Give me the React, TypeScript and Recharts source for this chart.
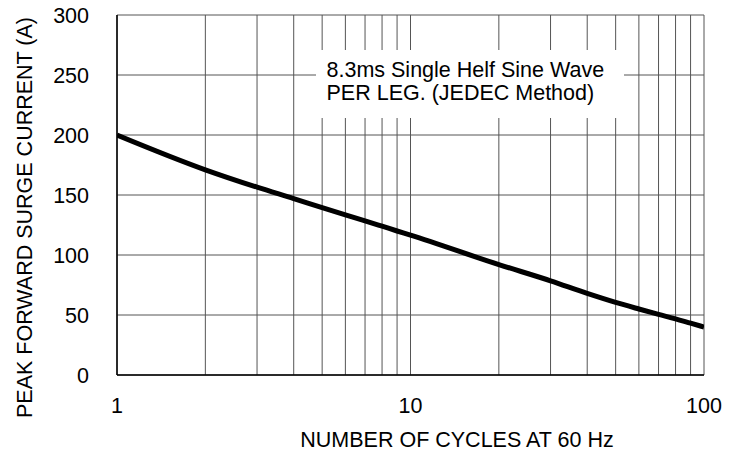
import React from 'react';
import { LineChart, Line, XAxis, YAxis, CartesianGrid } from 'recharts';

const cycles = [1, 2, 3, 4, 5, 6, 7, 8, 9, 10, 20, 30, 40, 50, 60, 70, 80, 90, 100];
const surgeCurrent = [200, 171, 156.5, 147, 139.5, 133.5, 128.5, 124, 120, 116.5, 92, 78.5, 68, 60.5, 55, 50.5, 46.8, 43.2, 40];
const xTicks = [1, 2, 3, 4, 5, 6, 7, 8, 9, 10, 20, 30, 40, 50, 60, 70, 80, 90, 100];
const xLabelTicks = [1, 10, 100];
const yTicks = [0, 50, 100, 150, 200, 250, 300];
const noteLines = ['8.3ms Single Helf Sine Wave', 'PER LEG. (JEDEC Method)'];
const xTitle = 'NUMBER OF CYCLES AT 60 Hz';
const yTitle = 'PEAK FORWARD SURGE CURRENT (A)';

const data = cycles.map((c, i) => ({ c, v: surgeCurrent[i] }));
const FONT = '"Liberation Sans", Arial, sans-serif';
const FS = 21.5;

export default function App() {
  return (
    <div style={{ position: 'absolute', left: 0, top: 0, width: 734, height: 457, background: '#fff', fontFamily: FONT }}>
      <LineChart width={734} height={457} data={data} margin={{ top: 15, right: 30, bottom: 52, left: 17 }}>
        <CartesianGrid stroke="#555" strokeWidth={1} horizontal vertical />
        <XAxis
          dataKey="c"
          type="number"
          scale="log"
          domain={[1, 100]}
          ticks={xTicks}
          interval={0}
          allowDataOverflow
          height={30}
          tickLine={false}
          tickSize={6}
          tickMargin={17}
          axisLine={{ stroke: '#000', strokeWidth: 1.5 }}
          tickFormatter={(t: number) => (xLabelTicks.includes(t) ? String(t) : '')}
          tick={{ fontSize: FS, fill: '#000', fontFamily: FONT }}
        />
        <YAxis
          type="number"
          domain={[0, 300]}
          ticks={yTicks}
          interval={0}
          width={100}
          tickLine={false}
          tickSize={6}
          tickMargin={22}
          axisLine={{ stroke: '#000', strokeWidth: 1.5 }}
          tick={{ fontSize: FS, fill: '#000', fontFamily: FONT }}
        />
        <Line dataKey="v" type="monotone" stroke="#000" strokeWidth={5} dot={false} isAnimationActive={false} />
      </LineChart>
      <div
        style={{
          position: 'absolute',
          left: 316,
          top: 50,
          width: 308,
          height: 68,
          background: '#fff',
        }}
      />
      <div
        style={{
          position: 'absolute',
          left: 326.5,
          top: 58.5,
          fontSize: FS,
          lineHeight: '23px',
          color: '#000',
          whiteSpace: 'nowrap',
        }}
      >
        {noteLines.map((l) => (
          <div key={l}>{l}</div>
        ))}
      </div>
      <div
        style={{
          position: 'absolute',
          left: 257,
          top: 430,
          width: 400,
          textAlign: 'center',
          fontSize: FS,
          lineHeight: '21px',
          color: '#000',
          whiteSpace: 'nowrap',
        }}
      >
        {xTitle}
      </div>
      <div
        style={{
          position: 'absolute',
          left: 25 - 220,
          top: 217.5 - 10.5,
          width: 440,
          height: 21,
          textAlign: 'center',
          fontSize: FS,
          lineHeight: '21px',
          color: '#000',
          whiteSpace: 'nowrap',
          transform: 'rotate(-90deg)',
        }}
      >
        {yTitle}
      </div>
    </div>
  );
}
